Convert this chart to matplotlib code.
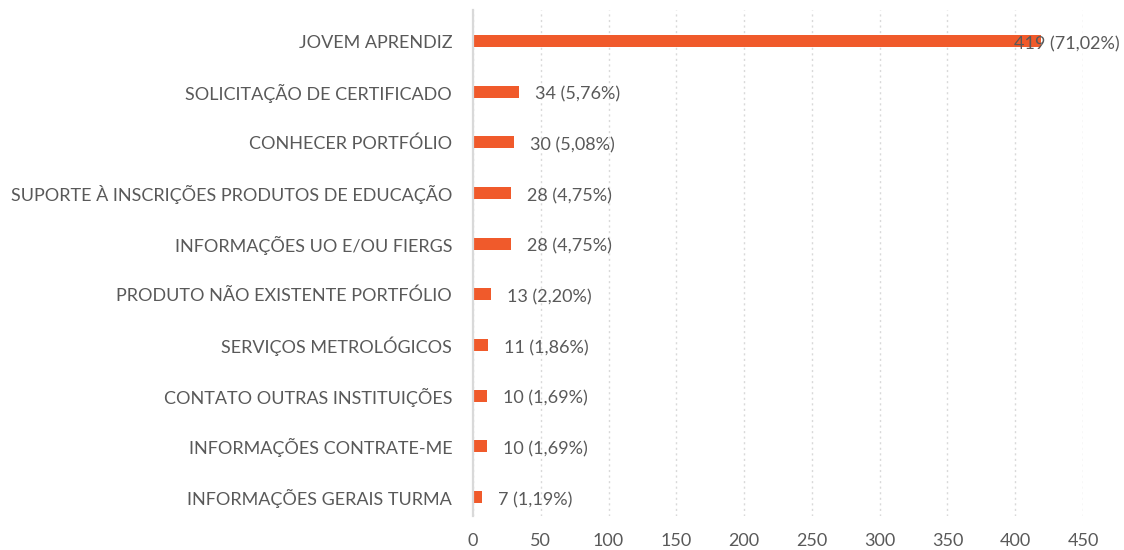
import matplotlib
matplotlib.use("Agg")
import matplotlib.pyplot as plt
import matplotlib.transforms as mtransforms

categories = [
    "JOVEM APRENDIZ",
    "SOLICITAÇÃO DE CERTIFICADO",
    "CONHECER PORTFÓLIO",
    "SUPORTE À INSCRIÇÕES PRODUTOS DE EDUCAÇÃO",
    "INFORMAÇÕES UO E/OU FIERGS",
    "PRODUTO NÃO EXISTENTE PORTFÓLIO",
    "SERVIÇOS METROLÓGICOS",
    "CONTATO OUTRAS INSTITUIÇÕES",
    "INFORMAÇÕES CONTRATE-ME",
    "INFORMAÇÕES GERAIS TURMA",
]
values = [419, 34, 30, 28, 28, 13, 11, 10, 10, 7]
percents = ["71,02%", "5,76%", "5,08%", "4,75%", "4,75%", "2,20%", "1,86%", "1,69%", "1,69%", "1,19%"]
xticks = [0, 50, 100, 150, 200, 250, 300, 350, 400, 450]

plt.rcParams['font.family'] = ['Lato', 'DejaVu Sans']
TEXT = '#595959'
BAR = '#F05A2B'
GRID = '#D9D9D9'
FS = 13

W, H = 1124, 550
fig = plt.figure(figsize=(W / 100, H / 100), dpi=100)
left, right, top, bottom = 473, 1083, 10, 516
ax = fig.add_axes([left / W, 1 - bottom / H, (right - left) / W, (bottom - top) / H])

ypos = list(range(len(categories)))
ax.barh(ypos, values, height=0.237, color=BAR, zorder=3)
ax.set_ylim(9.375, -0.612)
ax.set_xlim(0, 450)
ax.set_xticks(xticks)
ax.set_xticklabels([str(t) for t in xticks])
ax.set_yticks(ypos)
ax.set_yticklabels(categories)

ax.tick_params(axis='both', length=0, labelsize=FS, labelcolor=TEXT)
ax.tick_params(axis='x', pad=12)
ax.tick_params(axis='y', pad=15)

for s in ['top', 'right', 'bottom']:
    ax.spines[s].set_visible(False)
ax.spines['left'].set_color(GRID)
ax.spines['left'].set_linewidth(1.6)
ax.spines['left'].set_zorder(4)

ax.xaxis.grid(True, color=GRID, linestyle=(0, (1.5, 2.5)), linewidth=1.0, zorder=0)
ax.set_axisbelow(True)

offset = mtransforms.ScaledTranslation(16 / 100, -3 / 100, fig.dpi_scale_trans)
for i, (v, p) in enumerate(zip(values, percents)):
    label = f"{v} ({p})"
    if v > 400:
        tr = mtransforms.blended_transform_factory(fig.transFigure, ax.transData)
        ax.text(1120 / W, i, label, transform=tr + mtransforms.ScaledTranslation(0, -3 / 100, fig.dpi_scale_trans),
                ha='right', va='center', fontsize=FS, color=TEXT, zorder=5)
    else:
        ax.text(v, i, label, transform=ax.transData + offset, ha='left', va='center',
                fontsize=FS, color=TEXT, zorder=5)

fig.savefig("out.png", dpi=100)
